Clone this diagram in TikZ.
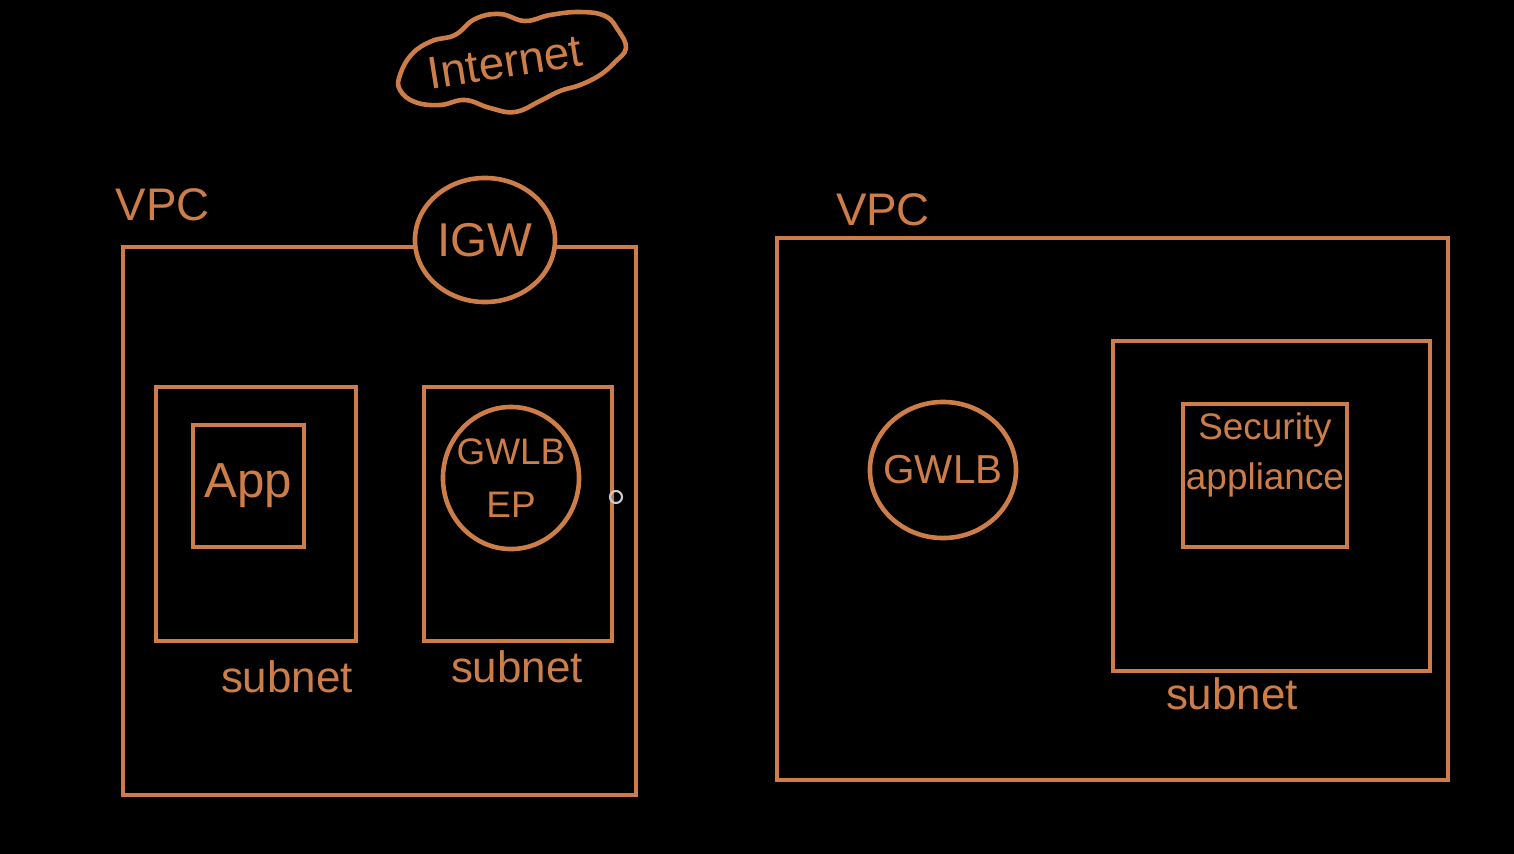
\documentclass[tikz,border=0pt]{standalone}
\usepackage{fontspec}
\setmainfont{Liberation Sans}
\usetikzlibrary{shapes.geometric}
\definecolor{ink}{RGB}{205,125,72}
\tikzset{
  stroke/.style={draw=ink, line width=1.3pt},
  box/.style={stroke, rectangle, inner sep=0pt, fill=none},
  oval/.style={stroke, ellipse, inner sep=0pt, fill=black},
  lbl/.style={text=ink, inner sep=0pt},
}
\begin{document}
\begin{tikzpicture}[x=0.01cm, y=-0.01cm]
\fill[black] (0,0) rectangle (1514,854);
\useasboundingbox (0,0) rectangle (1514,854);

% Internet cloud
\draw[stroke, line join=round] plot[smooth cycle, tension=0.7] coordinates {
 (400,75) (412,54) (432,41) (455,35) (475,19) (500,14) (525,21) (550,15)
 (580,12) (605,16) (618,30) (626,48) (615,62) (600,75) (580,85) (560,91)
 (540,101) (515,112) (490,108) (465,100) (440,105) (415,102) (400,90)};
\node[lbl, rotate=9, font=\fontsize{13}{15}\selectfont] (internet) at (505,62) {Internet};

% Left VPC
\node[box, minimum width=5.13cm, minimum height=5.48cm] (vpcL) at (379.5,521) {};
\node[lbl, font=\fontsize{13}{15}\selectfont] (vpcLlbl) at (163,205) {VPC};
\node[oval, minimum width=1.40cm, minimum height=1.24cm] (igw) at (485,240) {};
\node[lbl, font=\fontsize{13.5}{15}\selectfont] (igwlbl) at (igw) {IGW};

\node[box, minimum width=2.00cm, minimum height=2.54cm] (sub1) at (256,514) {};
\node[box, minimum width=1.11cm, minimum height=1.22cm] (app) at (248.5,486) {};
\node[lbl, font=\fontsize{14}{16}\selectfont] (applbl) at (app) {App};
\node[lbl, font=\fontsize{12.5}{14}\selectfont] (sub1lbl) at (287,677) {subnet};

\node[box, minimum width=1.88cm, minimum height=2.54cm] (sub2) at (518,514) {};
\node[oval, minimum width=1.36cm, minimum height=1.42cm] (gwlbep) at (511,478) {};
\node[lbl, align=center, font=\fontsize{10.5}{15}\selectfont] (gwlbeplbl) at (gwlbep) {GWLB\\EP};
\node[lbl, font=\fontsize{12.5}{14}\selectfont] (sub2lbl) at (517,667) {subnet};

% cursor
\draw[draw=white!80!black, line width=0.6pt] (616,497) circle (6);

% Right VPC
\node[box, minimum width=6.71cm, minimum height=5.42cm] (vpcR) at (1112.5,509) {};
\node[lbl, font=\fontsize{13}{15}\selectfont] (vpcRlbl) at (883,210) {VPC};
\node[oval, minimum width=1.46cm, minimum height=1.36cm] (gwlb) at (943,470) {};
\node[lbl, font=\fontsize{11.5}{14}\selectfont] (gwlblbl) at (gwlb) {GWLB};

\node[box, minimum width=3.17cm, minimum height=3.30cm] (sub3) at (1271.5,506) {};
\node[box, minimum width=1.64cm, minimum height=1.43cm] (sec) at (1265,475.5) {};
\node[lbl, align=center, font=\fontsize{10.5}{14}\selectfont] (seclbl) at (1265,455) {Security\\appliance};
\node[lbl, font=\fontsize{12.5}{14}\selectfont] (sub3lbl) at (1232,694) {subnet};
\end{tikzpicture}
\end{document}
